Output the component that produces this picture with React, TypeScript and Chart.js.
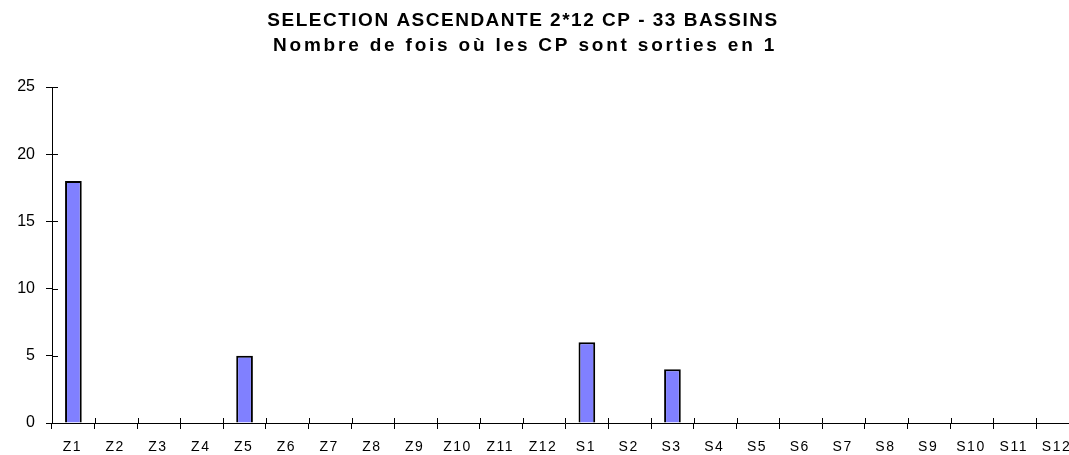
import React, { useEffect, useRef } from "react";
import { Chart, registerables } from "chart.js";

Chart.register(...registerables);

const categories = [
  "Z1", "Z2", "Z3", "Z4", "Z5", "Z6", "Z7", "Z8", "Z9", "Z10", "Z11", "Z12",
  "S1", "S2", "S3", "S4", "S5", "S6", "S7", "S8", "S9", "S10", "S11", "S12",
];
const values = [
  18, 0, 0, 0, 5, 0, 0, 0, 0, 0, 0, 0,
  6, 0, 4, 0, 0, 0, 0, 0, 0, 0, 0, 0,
];
const yTickValues = [0, 5, 10, 15, 20, 25];
const titleText = "SELECTION ASCENDANTE 2*12 CP - 33 BASSINS";
const subtitleText = "Nombre de fois où les CP sont sorties en 1";

const FONT = "'Liberation Sans', Arial, sans-serif";

const stylePlugin = {
  id: "styleTweaks",
  beforeDraw(chart: any) {
    const ctx = chart.ctx;
    const wrap = (obj: any, key: string, spacing: string, dx: number) => {
      if (!obj || obj["__wrapped_" + key]) return;
      const orig = obj[key].bind(obj);
      obj[key] = (...args: any[]) => {
        ctx.save();
        ctx.letterSpacing = spacing;
        ctx.translate(dx, 0);
        orig(...args);
        ctx.restore();
      };
      obj["__wrapped_" + key] = true;
    };
    const tb = chart.titleBlock;
    wrap(tb, "draw", "1.5px", -17);
    const sub = (chart.boxes || []).find(
      (b: any) => b !== tb && tb && b.constructor === tb.constructor
    );
    wrap(sub, "draw", "2.8px", -15);
    wrap(chart.scales.x, "drawLabels", "1.5px", -1);
  },
  afterDraw(chart: any) {
    const ctx = chart.ctx;
    const { left, right, bottom } = chart.chartArea;
    const n = categories.length;
    const w = (right - left) / n;
    ctx.save();
    ctx.strokeStyle = "#000";
    ctx.lineWidth = 1;
    ctx.beginPath();
    for (let i = 0; i <= n; i++) {
      const x = Math.round(left + i * w) + 0.5;
      ctx.moveTo(x, bottom - 5);
      ctx.lineTo(x, bottom);
    }
    const y = chart.scales.y;
    for (const v of yTickValues) {
      const py = Math.round(y.getPixelForValue(v)) + 0.5;
      ctx.moveTo(left, py);
      ctx.lineTo(left + 6, py);
    }
    ctx.stroke();
    ctx.restore();
  },
};

export default function App() {
  const ref = useRef<HTMLCanvasElement | null>(null);

  useEffect(() => {
    if (!ref.current) return;
    const chart = new Chart(ref.current, {
      type: "bar",
      data: {
        labels: categories,
        datasets: [
          {
            data: values,
            backgroundColor: "#8080FF",
            borderColor: "#000000",
            borderWidth: 2,
            barPercentage: 0.39,
            categoryPercentage: 1,
          },
        ],
      },
      options: {
        responsive: false,
        animation: false,
        layout: { padding: 0 },
        plugins: {
          legend: { display: false },
          tooltip: { enabled: false },
          title: {
            display: true,
            text: titleText,
            color: "#000",
            font: { family: FONT, size: 19, weight: "bold", lineHeight: "25px" },
            padding: { top: 8, bottom: 0 },
          },
          subtitle: {
            display: true,
            text: subtitleText,
            color: "#000",
            font: { family: FONT, size: 19, weight: "bold", lineHeight: "25px" },
            padding: { top: 0, bottom: 29 },
          },
        },
        scales: {
          x: {
            offset: true,
            grid: {
              offset: true,
              drawOnChartArea: false,
              drawTicks: true,
              tickLength: 6,
              color: "#000",
            },
            border: { display: true, color: "#000", width: 1 },
            ticks: {
              color: "#000",
              font: { family: FONT, size: 14 },
              padding: 10,
              maxRotation: 0,
              autoSkip: false,
            },
            afterFit: (s: any) => {
              s.height = 32;
            },
          },
          y: {
            min: 0,
            max: 25,
            grid: {
              drawOnChartArea: false,
              drawTicks: true,
              tickLength: 6,
              color: "#000",
            },
            border: { display: true, color: "#000", width: 1 },
            ticks: {
              stepSize: 5,
              color: "#000",
              font: { family: FONT, size: 16 },
              padding: 11,
            },
            afterFit: (s: any) => {
              s.width = 52;
            },
          },
        },
      },
      plugins: [stylePlugin],
    });
    return () => chart.destroy();
  }, []);

  return (
    <div
      style={{
        position: "fixed",
        left: 0,
        top: 0,
        width: 1069,
        height: 455,
        overflow: "hidden",
        background: "#fff",
      }}
    >
      <canvas ref={ref} width={1080} height={455} style={{ display: "block" }} />
    </div>
  );
}
